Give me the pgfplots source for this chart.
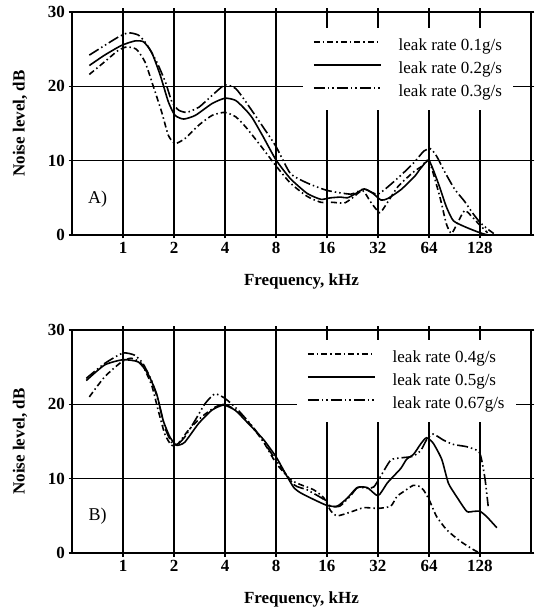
\documentclass[border=0pt]{standalone}
\usepackage{fontspec}
\setmainfont{Liberation Serif}
\usepackage{pgfplots}
\pgfplotsset{compat=1.18}

\pgfplotstableread{
x y
-0.66 21.6
-0.36 23.3
-0.1 24.8
0.07 25.3
0.26 25.0
0.43 23.3
0.59 20.1
0.76 16.5
0.89 13.4
1.02 12.3
1.22 13.0
1.49 14.8
1.75 16.1
2.0 16.5
2.21 15.9
2.41 14.5
2.7 12.0
3.0 9.3
3.28 7.0
3.61 5.2
3.88 4.4
4.1 4.4
4.34 4.3
4.5 5.0
4.7 6.0
4.85 4.5
5.03 3.0
5.15 4.0
5.39 6.5
5.7 8.5
5.85 9.2
6.0 10.0
6.21 5.2
6.34 1.5
6.44 0.2
6.55 1.5
6.7 3.3
6.85 2.4
7.0 1.3
7.15 0.3
}\Aone

\pgfplotstableread{
x y
-0.66 22.8
-0.36 24.2
-0.03 25.5
0.23 26.1
0.4 26.0
0.56 24.6
0.73 21.5
0.89 17.9
1.02 16.1
1.19 15.6
1.42 16.1
1.75 17.7
2.0 18.4
2.21 18.1
2.41 16.8
2.54 15.7
2.75 13.2
3.0 10.1
3.28 7.6
3.61 5.6
3.88 4.8
4.07 5.0
4.27 5.1
4.4 5.0
4.57 5.6
4.73 6.2
4.9 5.6
5.06 4.7
5.19 4.9
5.45 6.1
5.72 7.9
5.84 9.0
6.0 10.0
6.18 7.0
6.34 3.8
6.48 1.9
6.74 1.0
7.0 0.3
7.15 0.0
}\Atwo

\pgfplotstableread{
x y
-0.66 24.2
-0.36 25.5
-0.1 26.6
0.1 27.2
0.3 26.9
0.46 25.7
0.66 23.3
0.83 20.6
0.96 17.9
1.09 16.8
1.25 16.5
1.49 17.2
1.75 18.8
2.0 20.2
2.21 19.7
2.41 17.9
2.7 15.0
3.0 11.9
3.28 8.3
3.61 7.0
4.0 6.0
4.47 5.5
4.73 6.2
5.0 5.5
5.38 7.6
5.7 9.7
5.9 11.3
6.03 11.6
6.15 10.6
6.3 8.6
6.5 6.2
6.7 4.5
6.85 3.0
7.0 1.7
7.15 0.8
7.27 0.2
}\Athree

\pgfplotstableread{
x y
-0.66 21.0
-0.36 23.7
-0.03 25.7
0.16 26.2
0.36 25.5
0.56 22.6
0.69 19.2
0.82 16.0
0.95 14.5
1.08 14.7
1.28 16.5
1.54 18.3
1.8 19.6
2.0 20.0
2.26 19.0
2.46 17.6
2.75 15.0
3.0 12.1
3.28 9.9
3.48 9.2
3.74 8.5
3.94 7.4
4.07 5.7
4.2 5.0
4.46 5.5
4.72 6.1
5.0 6.0
5.25 6.3
5.37 7.6
5.51 8.3
5.69 9.1
5.8 9.0
5.89 8.5
6.0 7.2
6.15 4.9
6.35 3.1
6.61 1.6
6.87 0.45
7.0 0.0
}\Bfour

\pgfplotstableread{
x y
-0.72 23.2
-0.36 25.3
0.0 26.0
0.3 25.7
0.49 24.1
0.66 21.4
0.79 17.8
0.92 15.6
1.05 14.5
1.21 14.9
1.48 17.4
1.74 19.2
1.97 19.9
2.2 19.2
2.46 17.4
2.75 15.3
3.0 12.95
3.2 10.5
3.35 8.8
3.48 8.1
3.74 7.2
4.0 6.4
4.2 6.3
4.4 7.4
4.59 8.8
4.79 8.8
5.0 7.7
5.18 9.4
5.3 10.3
5.45 11.4
5.56 12.6
5.7 13.3
5.84 14.7
5.95 15.5
6.08 14.8
6.25 12.6
6.38 9.4
6.54 7.6
6.74 5.6
6.87 5.6
7.0 5.6
7.13 4.9
7.33 3.4
}\Bfive

\pgfplotstableread{
x y
-0.72 23.5
-0.36 25.5
0.0 26.9
0.23 26.6
0.39 25.5
0.56 23.2
0.69 20.5
0.82 16.9
0.95 14.9
1.05 14.5
1.21 15.6
1.41 17.8
1.61 20.1
1.8 21.4
2.0 20.8
2.26 19.2
2.6 16.5
3.0 12.5
3.35 9.2
3.61 8.5
3.94 7.2
4.07 6.3
4.25 6.3
4.45 7.6
4.6 8.8
4.8 8.7
4.92 8.9
5.05 10.3
5.25 12.5
5.45 12.8
5.68 13.0
5.84 13.8
5.95 15.2
6.08 16.0
6.28 15.2
6.48 14.6
6.74 14.3
6.97 13.7
7.03 12.6
7.1 9.9
7.16 6.3
}\Bsix

\pgfplotsset{
  panel/.style={
    scale only axis, width=459pt, height=223pt,
    xmin=-1, xmax=8, ymin=0, ymax=30,
    xtick={0,...,7}, xticklabels={1,2,4,8,16,32,64,128},
    ytick={0,10,20,30},
    grid=major, grid style={black, line width=1.3pt},
    axis line style={line width=1.8pt},
    tick style={black, line width=1.3pt},
    tick align=center, major tick length=7pt,
    /pgf/number format/assume math mode=true,
    ticklabel style={font=\fontsize{17}{20}\selectfont\bfseries},
    label style={font=\fontsize{17}{20}\selectfont\bfseries},
    xlabel={Frequency, kHz}, ylabel={Noise level, dB},
    ylabel style={at={(axis description cs:-0.113,0.5)}, anchor=center},
    xlabel style={at={(axis description cs:0.5,-0.21)}, anchor=center},
    legend cell align=left,
    legend style={draw=none, fill=white, font=\fontsize{17}{20}\selectfont,
      row sep=5pt, inner xsep=10pt, inner ysep=9pt,
      nodes={inner sep=1pt, text height=12pt, text depth=4pt},
      /tikz/every odd column/.style={column sep=16pt}},
    legend image code/.code={\draw[#1] (0pt,4pt) -- (67pt,4pt);},
    every axis plot/.append style={line width=1.6pt, black, smooth, tension=0.35},
  },
  dd/.style={dash pattern=on 6pt off 3pt on 1.5pt off 3pt},
  ldd/.style={dash pattern=on 11pt off 3pt on 1.5pt off 3pt on 1.5pt off 3pt},
}

\begin{document}
\begin{tikzpicture}
\path[use as bounding box] (0,0) rectangle (535pt,611pt);
\begin{axis}[panel, at={(72pt,376pt)}, anchor=south west,
  legend style={at={(0.503,0.928)}, anchor=north west}]
\addplot[dd] table {\Aone};
\addlegendentry{leak rate 0.1g/s}
\addplot[solid] table {\Atwo};
\addlegendentry{leak rate 0.2g/s}
\addplot[ldd] table {\Athree};
\addlegendentry{leak rate 0.3g/s}
\node[font=\fontsize{18}{20}\selectfont] at (axis cs:-0.5,4.85) {A)};
\end{axis}
\begin{axis}[panel, at={(72pt,58pt)}, anchor=south west,
  legend style={at={(0.490,0.955)}, anchor=north west}]
\addplot[dd] table {\Bfour};
\addlegendentry{leak rate 0.4g/s}
\addplot[solid] table {\Bfive};
\addlegendentry{leak rate 0.5g/s}
\addplot[ldd] table {\Bsix};
\addlegendentry{leak rate 0.67g/s}
\node[font=\fontsize{18}{20}\selectfont] at (axis cs:-0.5,4.9) {B)};
\end{axis}
\end{tikzpicture}
\end{document}
